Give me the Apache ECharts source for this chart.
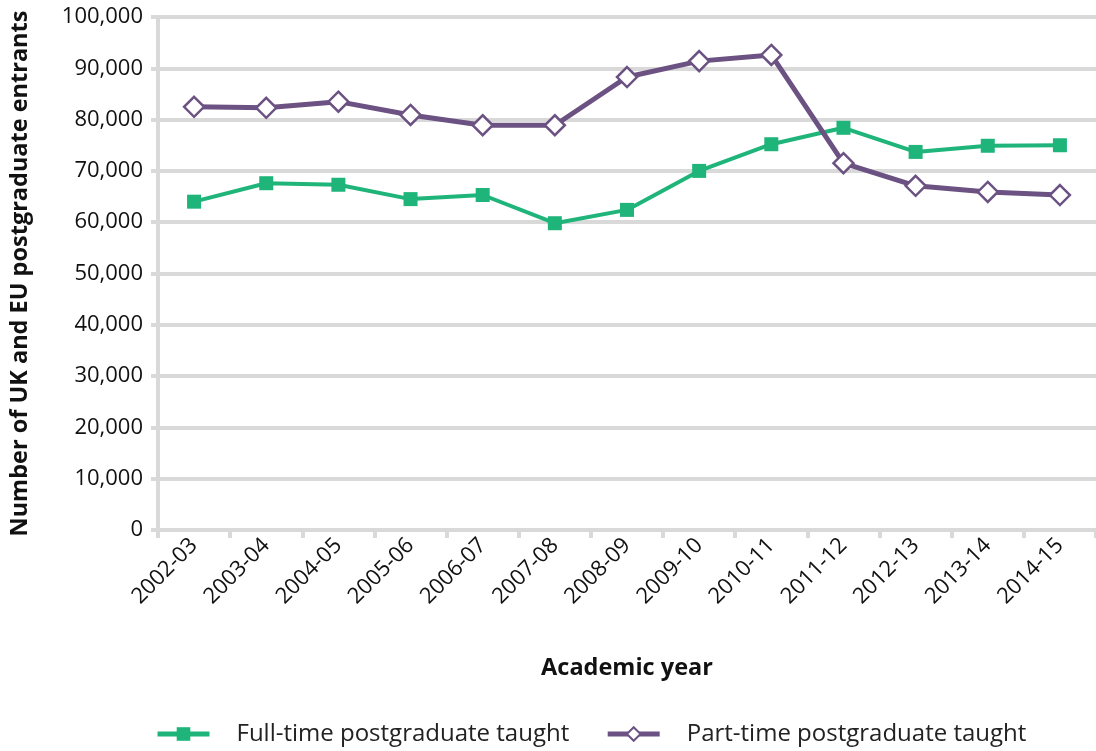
<!DOCTYPE html>
<html><head><meta charset="utf-8">
<script src="https://cdn.jsdelivr.net/npm/echarts@6/dist/echarts.min.js"></script>
<style>html,body{margin:0;padding:0;background:#fff}#c{width:1096px;height:751px}</style>
</head><body><div id="c"></div>
<script>
const categories = ['2002-03','2003-04','2004-05','2005-06','2006-07','2007-08','2008-09','2009-10','2010-11','2011-12','2012-13','2013-14','2014-15'];
const fullTime = [64000,67600,67300,64500,65300,59800,62400,70000,75200,78400,73700,74900,75000];
const partTime = [82500,82300,83500,80900,78900,78900,88300,91400,92600,71500,67100,65900,65300];
const seriesNames = ['Full-time postgraduate taught','Part-time postgraduate taught'];
const font = 'Open Sans';
const chart = echarts.init(document.getElementById('c'));
chart.setOption({
  animation:false,
  textStyle:{fontFamily:font},
  grid:{left:157,right:0,top:17,bottom:221},
  legend:{bottom:0,left:150,itemGap:36,itemWidth:52,itemHeight:17,
    lineStyle:{width:5},
    textStyle:{fontSize:24,color:'#222',fontFamily:font,padding:[0,0,0,22]},
    data:seriesNames},
  xAxis:{type:'category',data:categories,boundaryGap:true,
    name:'Academic year',nameLocation:'middle',nameGap:126,
    nameTextStyle:{fontSize:23.5,fontWeight:'bold',color:'#111',fontFamily:font},
    axisLine:{lineStyle:{color:'#d9d9d9',width:4}},
    axisTick:{show:true,length:8,lineStyle:{color:'#d9d9d9',width:4},alignWithLabel:false},
    axisLabel:{rotate:45,fontSize:22,color:'#111',margin:12,fontFamily:font},
    splitLine:{show:false}},
  yAxis:{type:'value',min:0,max:100000,interval:10000,
    name:'Number of UK and EU postgraduate entrants',nameLocation:'middle',nameGap:126,
    nameTextStyle:{fontSize:23.5,fontWeight:'bold',color:'#111',fontFamily:font},
    axisLine:{show:true,lineStyle:{color:'#d9d9d9',width:4}},
    axisTick:{show:true,length:7,lineStyle:{color:'#d9d9d9',width:4}},
    axisLabel:{fontSize:22,color:'#111',margin:15,fontFamily:font,
      formatter:v=>v.toLocaleString('en-US')},
    splitLine:{show:true,lineStyle:{color:'#d9d9d9',width:4}}},
  series:[
    {name:seriesNames[0],type:'line',data:fullTime,symbol:'rect',symbolSize:14,
      lineStyle:{color:'#1fb57a',width:4},itemStyle:{color:'#1fb57a',borderWidth:0}},
    {name:seriesNames[1],type:'line',data:partTime,symbol:'diamond',symbolSize:[20,20],
      lineStyle:{color:'#6b5282',width:5},itemStyle:{color:'#fff',borderColor:'#6b5282',borderWidth:2.5}}
  ]
});
</script></body></html>
